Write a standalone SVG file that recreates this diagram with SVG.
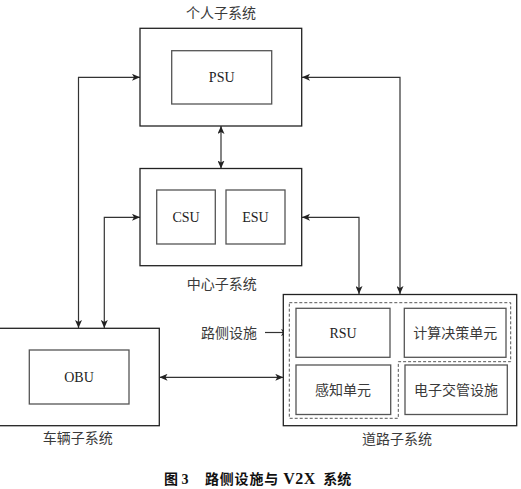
<svg xmlns="http://www.w3.org/2000/svg" width="521" height="489" viewBox="0 0 521 489">
<style>
.outer{fill:#fff;stroke:#222;stroke-width:1.3}
.inner{fill:#fff;stroke:#555;stroke-width:1.3}
.dash{fill:none;stroke:#555;stroke-width:1;stroke-dasharray:3,2}
.conn{fill:none;stroke:#333;stroke-width:1.2}
.lat{font-family:"Liberation Serif","Noto Sans CJK SC",serif;font-size:14px;fill:#222;text-anchor:middle}
.cjk{font-family:"Noto Sans CJK SC","Liberation Serif",sans-serif;font-size:14px;fill:#3a3a3a;text-anchor:middle}
.cap{font-family:"Liberation Serif","Noto Sans CJK SC",serif;font-size:14px;font-weight:bold;fill:#111}
</style>
<defs>
<marker id="arr" viewBox="0 0 8 7" refX="8" refY="3.5" markerWidth="8" markerHeight="7" markerUnits="userSpaceOnUse" orient="auto-start-reverse">
<path d="M0,0 L8,3.5 L0,7 L2,3.5 Z" fill="#222"/>
</marker>
</defs>
<rect width="521" height="489" fill="#fff"/>

<g id="connectors">
<path class="conn" d="M140,77.3 H78.5 V328" marker-start="url(#arr)" marker-end="url(#arr)"/>
<path class="conn" d="M140,217.3 H104.3 V328" marker-start="url(#arr)" marker-end="url(#arr)"/>
<path class="conn" d="M302,77.3 H400 V294" marker-start="url(#arr)" marker-end="url(#arr)"/>
<path class="conn" d="M302,217.3 H359 V294" marker-start="url(#arr)" marker-end="url(#arr)"/>
<path class="conn" d="M221,126 V168.5" marker-start="url(#arr)" marker-end="url(#arr)"/>
<path class="conn" d="M159.5,377.3 H283.3" marker-start="url(#arr)" marker-end="url(#arr)"/>
<path class="conn" d="M265,332.5 H289" marker-end="url(#arr)"/>
</g>

<g id="personal">
<rect class="outer" x="140" y="28.3" width="161.7" height="97.7"/>
<text class="cjk" x="221" y="18">个人子系统</text>
<g id="psu">
<rect class="inner" x="171.7" y="50.7" width="100" height="53.3"/>
<text class="lat" x="221.7" y="82">PSU</text>
</g>
</g>

<g id="center">
<rect class="outer" x="140" y="168.5" width="161.7" height="97.2"/>
<text class="cjk" x="221.7" y="288.5">中心子系统</text>
<g id="csu">
<rect class="inner" x="156.7" y="190" width="58.6" height="54"/>
<text class="lat" x="186" y="222">CSU</text>
</g>
<g id="esu">
<rect class="inner" x="226" y="190" width="59" height="54"/>
<text class="lat" x="255.5" y="222">ESU</text>
</g>
</g>

<g id="vehicle">
<rect class="outer" x="-1" y="328.3" width="160.3" height="97.4"/>
<text class="cjk" x="77.7" y="443">车辆子系统</text>
<g id="obu">
<rect class="inner" x="29.3" y="350" width="99.7" height="54"/>
<text class="lat" x="79" y="382">OBU</text>
</g>
</g>

<g id="roadside-label">
<text class="cjk" x="229" y="337.5">路侧设施</text>
</g>

<g id="road">
<rect class="outer" x="283.3" y="294.5" width="233.4" height="131.2"/>
<text class="cjk" x="397" y="443.5">道路子系统</text>
<path class="dash" d="M289.3,302.7 H510.7 V361.7 H398.3 V418.3 H289.3 Z"/>
<g id="rsu">
<rect class="inner" x="296" y="308.3" width="94" height="49"/>
<text class="lat" x="343" y="338">RSU</text>
</g>
<g id="compute">
<rect class="inner" x="404.3" y="308.3" width="101.7" height="49"/>
<text class="cjk" x="455.2" y="338">计算决策单元</text>
</g>
<g id="sense">
<rect class="inner" x="296" y="365" width="94.7" height="49.5"/>
<text class="cjk" x="343" y="395">感知单元</text>
</g>
<g id="traffic">
<rect class="inner" x="405" y="365" width="102.3" height="49.5"/>
<text class="cjk" x="456" y="395">电子交管设施</text>
</g>
</g>

<g id="caption">
<text class="cap" y="484"><tspan x="164">图</tspan><tspan x="181.5">3</tspan><tspan x="205" letter-spacing="0.8">路侧设施与</tspan><tspan x="283.3" font-size="16" letter-spacing="0.5">V2X</tspan><tspan x="323.3">系统</tspan></text>
</g>
</svg>
